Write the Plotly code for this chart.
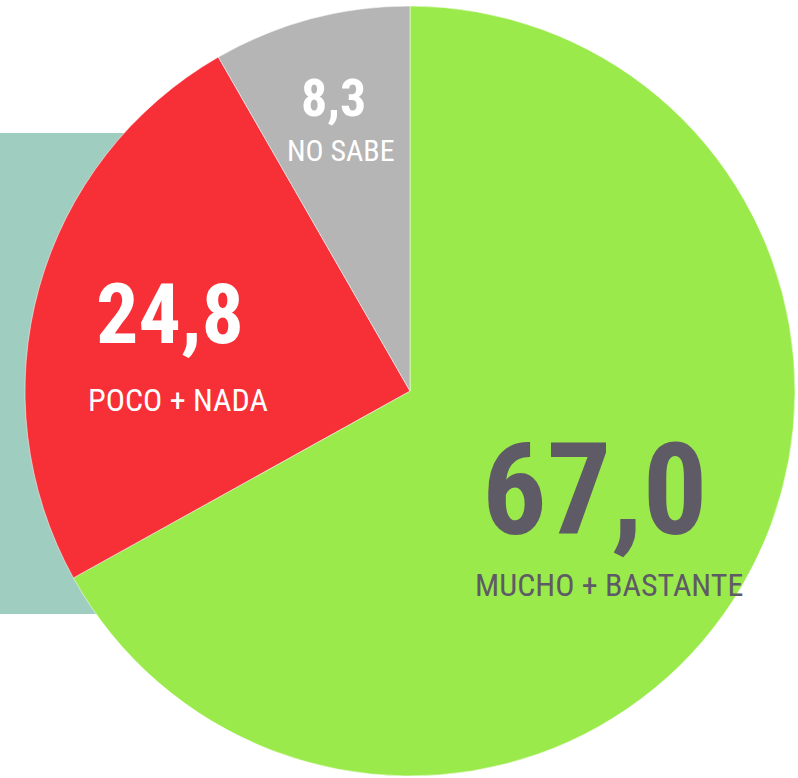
import plotly.graph_objects as go

categories = ["MUCHO + BASTANTE", "POCO + NADA", "NO SABE"]
values = [67.0, 24.8, 8.3]
colors = ["#9BEA4B", "#F72F37", "#B5B5B5"]
text_colors = ["#5E5A66", "#FFFFFF", "#FFFFFF"]

W, H = 798, 778
FONT = "Liberation Sans Narrow, Arial Narrow, Roboto Condensed, sans-serif"

fig = go.Figure()
fig.add_trace(go.Pie(
    labels=categories, values=values, sort=False, direction="clockwise", rotation=0,
    marker=dict(colors=colors, line=dict(color="rgba(255,255,255,0.5)", width=1)),
    textinfo="none", hoverinfo="label+value", showlegend=False,
    domain=dict(x=[25 / W, 795 / W], y=[1 - 776 / H, 1 - 6 / H]),
))

def px(x, y):
    return x / W, 1 - y / H

label_pos = [
    ((594, 490), 128, (609, 585), 32),
    ((170, 314), 84, (178, 400), 32),
    ((333, 98), 52, (341, 151), 30),
]
ann = []
for v, c, tc, (npos, nsz, cpos, csz) in zip(values, categories, text_colors, label_pos):
    x, y = px(*npos)
    ann.append(dict(x=x, y=y, xref="paper", yref="paper", showarrow=False,
                    text=f"{v:.1f}".replace(".", ","), xanchor="center", yanchor="middle",
                    font=dict(family=FONT, size=nsz, color=tc, weight="bold")))
    x, y = px(*cpos)
    ann.append(dict(x=x, y=y, xref="paper", yref="paper", showarrow=False,
                    text=c, xanchor="center", yanchor="middle",
                    font=dict(family=FONT, size=csz, color=tc)))

fig.update_layout(
    width=W, height=H, margin=dict(l=0, r=0, t=0, b=0),
    paper_bgcolor="white", plot_bgcolor="white",
    annotations=ann,
    shapes=[dict(type="rect", xref="paper", yref="paper", x0=0, x1=300 / W,
                 y0=1 - 614 / H, y1=1 - 133 / H, fillcolor="#9FCDBF",
                 line=dict(width=0), layer="below")],
)
fig.write_html("out.html", config={"displayModeBar": False},
               post_script="document.body.style.margin='0';")
